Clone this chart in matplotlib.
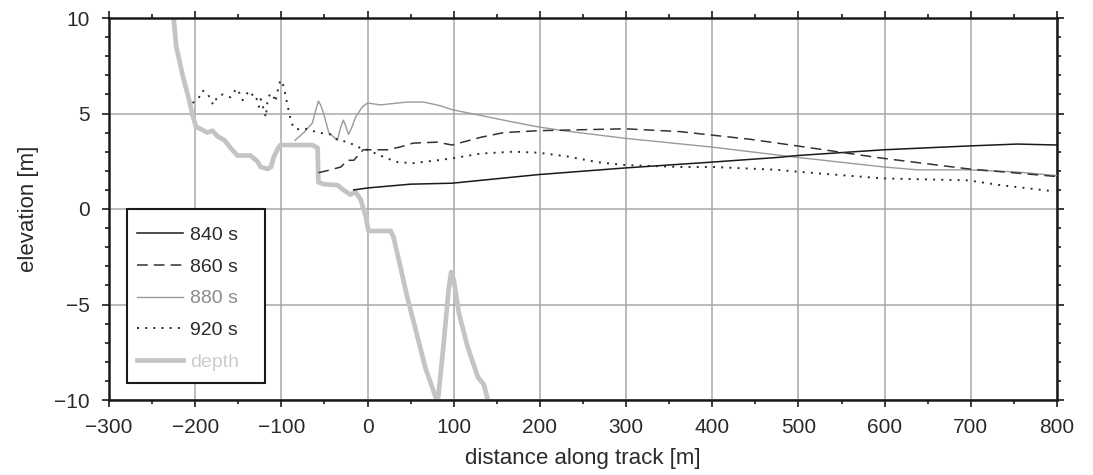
import matplotlib
matplotlib.use("Agg")
import matplotlib.pyplot as plt
from matplotlib.patches import Rectangle
from matplotlib.ticker import MultipleLocator, FuncFormatter

plt.rcParams['font.family'] = ['Liberation Sans', 'DejaVu Sans']

# ---- data ----
depth_x = [-225, -222, -214, -207, -203, -199, -194, -186, -180, -174, -166, -159, -151, -136, -128,
           -124, -116, -112, -109, -103, -101, -64, -58, -57, -51, -35, -28, -20, -14, -8, -2, 1, 27,
           30, 38, 46, 56, 67, 79, 82, 88, 94, 97, 100, 106, 116, 128, 135, 139]
depth_y = [10, 8.5, 6.9, 5.7, 4.9, 4.3, 4.2, 4.0, 4.1, 3.8, 3.6, 3.2, 2.8, 2.8, 2.5,
           2.2, 2.1, 2.2, 2.7, 3.25, 3.35, 3.35, 3.2, 1.4, 1.3, 1.25, 1.0, 0.75, 0.9, 0.5, -0.4, -1.15, -1.15,
           -1.45, -3.0, -4.6, -6.35, -8.3, -9.85, -9.85, -7.2, -4.25, -3.3, -3.7, -5.45, -7.2, -8.8, -9.2, -9.9]

s840_x = [-16, 0, 12, 50, 98, 198, 299, 398, 476, 499, 599, 697, 754, 800]
s840_y = [1.0, 1.1, 1.15, 1.3, 1.35, 1.8, 2.15, 2.45, 2.7, 2.8, 3.1, 3.3, 3.4, 3.35]

s860_x = [-57, -43, -31, -23, -16, -5, 3, 23, 38, 53, 81, 98, 131, 158, 198, 299, 363, 444, 499,
          560, 599, 697, 800]
s860_y = [1.9, 2.05, 2.2, 2.55, 2.55, 3.1, 3.1, 3.1, 3.25, 3.45, 3.5, 3.35, 3.75, 4.0, 4.1, 4.2, 4.05,
          3.65, 3.3, 2.9, 2.65, 2.1, 1.7]

s880_x = [-84, -74, -64, -60, -57, -54, -51, -45, -40, -35, -31, -28, -25, -22, -18, -14, -6, 0, 15,
          25, 46, 65, 85, 98, 131, 169, 198, 227, 299, 398, 444, 499, 599, 638, 696, 750, 800]
s880_y = [3.6, 4.0, 4.5, 5.2, 5.65, 5.4, 5.0, 4.0, 3.8, 3.6, 4.3, 4.65, 4.3, 3.9, 4.3, 4.8, 5.35, 5.55,
          5.45, 5.5, 5.6, 5.6, 5.4, 5.2, 4.9, 4.55, 4.3, 4.1, 3.7, 3.25, 3.0, 2.7, 2.2, 2.05, 2.05, 1.95,
          1.75]

s920_x = [-203, -196, -192, -186, -182, -179, -174, -168, -159, -153, -151, -145, -139, -136, -132,
          -128, -126, -124, -121, -118, -116, -113, -109, -107, -103, -101, -97, -95, -93, -89, -86,
          -78, -72, -57, -43, -34, -22, -12, 0, 12, 23, 35, 53, 81, 98, 131, 169, 198, 232, 267, 299,
          363, 401, 476, 499, 599, 697, 734, 792]
s920_y = [5.55, 5.8, 6.2, 6.1, 5.7, 5.45, 5.9, 6.0, 5.85, 6.25, 6.3, 5.7, 6.1, 5.9, 6.05,
          5.7, 5.35, 5.75, 5.3, 4.8, 5.7, 6.05, 5.9, 5.6, 6.45, 6.75, 6.4, 5.9, 5.45, 4.65, 4.25,
          4.15, 4.2, 4.0, 3.9, 3.6, 3.5, 3.25, 3.1, 2.85, 2.65, 2.45, 2.4, 2.55, 2.65, 2.9, 3.0, 2.95,
          2.75, 2.45, 2.3, 2.2, 2.2, 2.05, 1.95, 1.6, 1.5, 1.25, 0.95]

labels = ['840 s', '860 s', '880 s', '920 s', 'depth']

# ---- figure ----
W, H = 1093, 475
fig = plt.figure(figsize=(W/100, H/100), dpi=100)
ax = fig.add_axes([109/W, 1-400/H, (1057-109)/W, (400-18)/H])

ax.set_xlim(-300, 800)
ax.set_ylim(-10, 10)

ax.xaxis.set_major_locator(MultipleLocator(100))
ax.xaxis.set_minor_locator(MultipleLocator(50))
ax.yaxis.set_major_locator(MultipleLocator(5))
ax.yaxis.set_minor_locator(MultipleLocator(1))
fmt = FuncFormatter(lambda v, p: f"{v:.0f}".replace('-', '\u2212'))
ax.xaxis.set_major_formatter(fmt)
ax.yaxis.set_major_formatter(fmt)

ax.grid(True, which='major', color='#a8a8a8', lw=1.1, zorder=0)
ax.set_axisbelow(True)

for sp in ax.spines.values():
    sp.set_linewidth(1.8)
    sp.set_color('#1a1a1a')

ax.tick_params(which='both', direction='out', top=True, right=True,
               colors='#1a1a1a', width=1.2, labelsize=15, labelcolor='#2a2a2a')
ax.tick_params(which='major', length=5)
ax.tick_params(which='minor', length=3)
ax.tick_params(axis='x', which='major', pad=8)
ax.tick_params(axis='y', which='major', pad=9)
ax.tick_params(labeltop=False, labelright=False)

l_depth, = ax.plot(depth_x, depth_y, color='#c4c4c4', lw=3.4, solid_joinstyle='round', zorder=2)
l840, = ax.plot(s840_x, s840_y, color='#1a1a1a', lw=1.1, zorder=4)
l860, = ax.plot(s860_x, s860_y, color='#333333', lw=1.1, linestyle=(0, (7, 4)), zorder=4)
l880, = ax.plot(s880_x, s880_y, color='#9a9a9a', lw=1.0, zorder=3)
l920, = ax.plot(s920_x, s920_y, color='#2a2a2a', lw=1.4, linestyle=(0, (1, 3.2)), zorder=4)

# legend box (drawn as a patch so its size matches the reference)
bx0, bx1 = (127-109)/948, (265-109)/948
by0, by1 = (400-383)/382, (400-209)/382
ax.add_patch(Rectangle((bx0, by0), bx1-bx0, by1-by0, transform=ax.transAxes,
                       facecolor='white', edgecolor='#1a1a1a', lw=1.5, zorder=6, clip_on=False))

leg = ax.legend([l840, l860, l880, l920, l_depth], labels,
                loc='center left', bbox_to_anchor=(bx0, (400-298.5)/382), fontsize=14,
                frameon=False, handlelength=2.36, handletextpad=0.4, labelspacing=0.72,
                borderpad=0.5, borderaxespad=0)
leg.set_zorder(7)
for t, c in zip(leg.get_texts(), ['#2a2a2a', '#2a2a2a', '#8a8a8a', '#2a2a2a', '#cccccc']):
    t.set_color(c)

ax.set_xlabel('distance along track [m]', fontsize=16, color='#2a2a2a', labelpad=8)
ax.set_ylabel('elevation [m]', fontsize=16, color='#2a2a2a', labelpad=11)

fig.savefig('out.png', dpi=100)
